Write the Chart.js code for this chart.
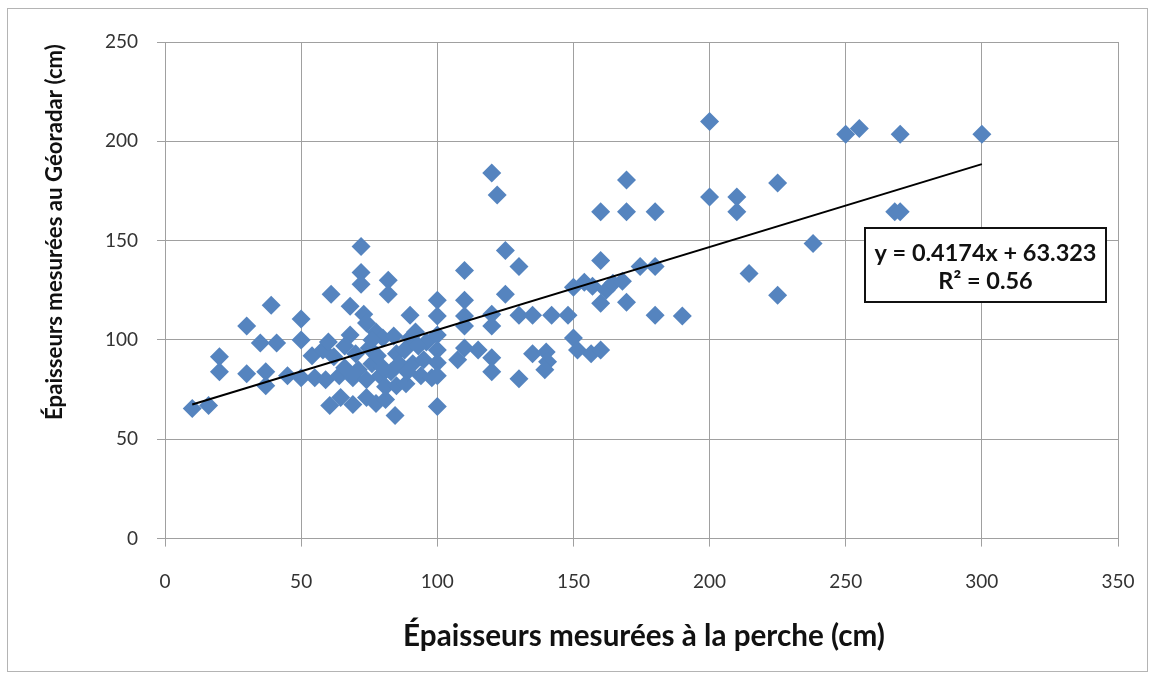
<!DOCTYPE html>
<html>
<head>
<meta charset="utf-8">
<script src="https://cdn.jsdelivr.net/npm/chart.js@4.4.1/dist/chart.umd.min.js"></script>
<style>
  html, body { margin: 0; padding: 0; background: #fff; }
  canvas { display: block; }
</style>
</head>
<body>
<canvas id="chart" width="1154" height="680"></canvas>
<script>
// épaisseurs (perche = x, géoradar = y)
var perche = [
  10, 16, 20, 20, 30, 30, 35, 37, 37, 39, 41, 45, 50, 50, 50, 54, 55, 58, 59, 60,
  61, 62, 60.5, 64.5, 64, 68, 68, 69, 69, 70, 71, 72, 72, 72, 73, 74, 74, 74, 76, 77.5,
  77.5, 79, 80, 81, 81, 82, 82, 83, 84.5, 85, 85, 86, 88.5, 90, 90, 91, 92, 94, 95, 96,
  98, 100, 100, 100, 100, 100, 100, 100, 66, 75, 78, 80, 88, 93, 76, 84, 66, 89,
  107.5, 110, 110, 110, 110, 110, 115, 120, 122, 125, 125, 120, 120, 120, 120, 130, 130, 130, 135, 135,
  140, 140.5, 139.5, 142, 148, 150, 150, 151.5, 154, 156.5, 157, 160, 160, 160, 160, 162, 164.5, 168, 169.5, 169.5,
  169.5, 174.5, 180, 180, 180, 190,
  200, 200, 210, 210, 214.5, 225, 225, 238, 250, 255, 268, 270, 270, 300
];
var georadar = [
  65.5, 67, 91.5, 84, 107, 83, 98.5, 84, 77, 117.5, 98.5, 82, 110.5, 100, 81, 92, 81, 95, 80, 99,
  123, 91.5, 67, 71, 82, 102.5, 117, 67.5, 81, 93, 85, 147, 134, 128, 113, 108.5, 80, 71, 88, 104,
  68, 82, 101, 70, 76.5, 130, 123, 84, 62, 93, 77, 88, 78, 112.5, 101, 88, 104, 82, 90, 99,
  81, 120, 112, 102.5, 95, 88.5, 82, 66.5, 97, 96, 92, 86, 95, 97, 100, 102, 86, 84,
  90, 135, 120, 112, 107, 96, 95, 184, 173, 145, 123, 113, 107, 91, 84, 137, 112.5, 80.5, 112.5, 93,
  94, 89, 85, 112.5, 112.5, 126.5, 101, 95, 129, 93, 127, 140, 118.5, 95, 164.5, 125, 128.5, 129.5, 180.5, 164.5,
  119, 137, 137, 164.5, 112.5, 112,
  210, 172, 172, 164.5, 133.5, 179, 122.5, 148.5, 203.5, 206.5, 164.5, 164.5, 203.5, 203.5
];

// courbe de tendance linéaire (extrémités lues)
var trendX = [10, 300];
var trendY = [67.5, 188.5];

var xTicks = [0, 50, 100, 150, 200, 250, 300, 350];
var yTicks = [0, 50, 100, 150, 200, 250];

var titreX = 'Épaisseurs mesurées à la perche (cm)';
var titreY = 'Épaisseurs mesurées au Géoradar (cm)';
var equation = ['y = 0.4174x + 63.323', 'R² = 0.56'];

var FONT = 'Lato, "Open Sans", sans-serif';

function fitFont(ctx, text, width) {
  ctx.font = 'bold 100px ' + FONT;
  var size = 100 * width / ctx.measureText(text).width;
  ctx.font = 'bold ' + size.toFixed(2) + 'px ' + FONT;
}

var points = perche.map(function (x, i) { return { x: x, y: georadar[i] }; });
var trend = trendX.map(function (x, i) { return { x: x, y: trendY[i] }; });

var decor = {
  id: 'decor',
  beforeDraw: function (chart) {
    var ctx = chart.ctx;
    ctx.save();
    ctx.fillStyle = '#fff';
    ctx.fillRect(0, 0, chart.width, chart.height);
    ctx.strokeStyle = '#b4b4b4';
    ctx.lineWidth = 1;
    ctx.strokeRect(7.5, 8.5, 1140, 663);
    ctx.restore();
  },
  afterDraw: function (chart) {
    var ctx = chart.ctx;
    ctx.save();
    ctx.fillStyle = '#111';
    ctx.textAlign = 'center';
    ctx.textBaseline = 'middle';

    // titres des axes
    fitFont(ctx, titreX, 482);
    ctx.fillText(titreX, 644, 636);
    ctx.save();
    ctx.translate(55, 232);
    ctx.rotate(-Math.PI / 2);
    fitFont(ctx, titreY, 376);
    ctx.fillText(titreY, 0, 0);
    ctx.restore();

    // étiquette de l'équation
    var bx = 865, by = 228, bw = 241, bh = 74;
    ctx.fillStyle = '#fff';
    ctx.fillRect(bx, by, bw, bh);
    ctx.strokeStyle = '#111';
    ctx.lineWidth = 2;
    ctx.strokeRect(bx, by, bw, bh);
    ctx.fillStyle = '#111';
    fitFont(ctx, equation[0], 222);
    ctx.fillText(equation[0], bx + bw / 2, by + 25);
    ctx.fillText(equation[1], bx + bw / 2, by + 53);
    ctx.restore();
  }
};

new Chart(document.getElementById('chart'), {
  type: 'scatter',
  data: {
    datasets: [
      {
        type: 'line',
        data: trend,
        borderColor: '#000',
        borderWidth: 2,
        pointRadius: 0,
        fill: false
      },
      {
        data: points,
        pointStyle: 'rectRot',
        pointRadius: 9.5,
        pointBackgroundColor: '#5584bf',
        pointBorderColor: '#5584bf',
        pointBorderWidth: 0
      }
    ]
  },
  options: {
    responsive: false,
    animation: false,
    devicePixelRatio: 1,
    layout: { padding: { left: 0, right: 36, top: 42, bottom: 0 } },
    plugins: { legend: { display: false }, tooltip: { enabled: false } },
    scales: {
      x: {
        type: 'linear',
        min: 0, max: 350,
        afterBuildTicks: function (s) { s.ticks = xTicks.map(function (v) { return { value: v }; }); },
        afterFit: function (s) { s.height = 141.4; s.paddingLeft = 0; s.paddingRight = 0; },
        grid: { color: '#a0a0a0', lineWidth: 1, tickLength: 8 },
        border: { color: '#a0a0a0' },
        ticks: { color: '#333', padding: 24, font: { family: FONT, size: 19 }, maxRotation: 0 }
      },
      y: {
        type: 'linear',
        min: 0, max: 250,
        afterBuildTicks: function (s) { s.ticks = yTicks.map(function (v) { return { value: v }; }); },
        afterFit: function (s) { s.width = 165; s.paddingTop = 0; s.paddingBottom = 0; },
        grid: { color: '#a0a0a0', lineWidth: 1, tickLength: 8 },
        border: { color: '#a0a0a0' },
        ticks: { color: '#333', padding: 19, font: { family: FONT, size: 19 } }
      }
    }
  },
  plugins: [decor]
});
</script>
</body>
</html>
